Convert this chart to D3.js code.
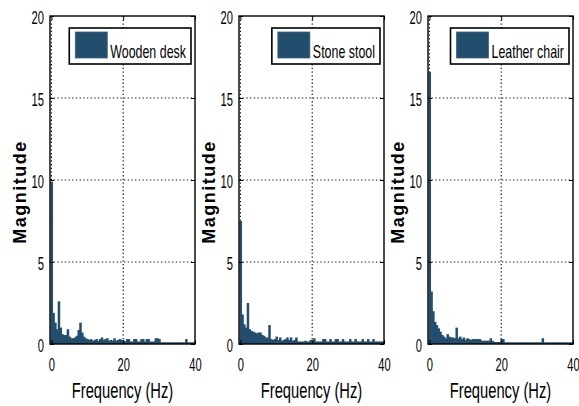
<!DOCTYPE html>
<html>
<head>
<meta charset="utf-8">
<script src="https://cdn.jsdelivr.net/npm/d3@7"></script>
<style>
  body { margin: 0; background: #fff; }
  svg { display: block; }
  text { font-family: "Liberation Sans", Arial, sans-serif; fill: #000; }
</style>
</head>
<body>
<svg id="chart" width="579" height="406"></svg>
<script>
// spectra sampled every 0.5 Hz from 0 to 40 Hz
const objects = ['Wooden desk', 'Stone stool', 'Leather chair'];
const freqStep = 0.5;
const woodenDesk = [
  9.9, 1.9, 1.3, 0.9, 2.6, 1.0, 0.6, 0.55, 0.55, 0.9,
  0.45, 0.35, 0.35, 0.4, 0.5, 0.85, 1.3, 0.7, 0.45, 0.35,
  0.3, 0.25, 0.3, 0.2, 0.25, 0.3, 0.2, 0.3, 0.4, 0.25,
  0.3, 0.35, 0.2, 0.25, 0.2, 0.35, 0.2, 0.25, 0.3, 0.25,
  0.2, 0.15, 0.3, 0.3, 0.15, 0.15, 0.3, 0.3, 0.15, 0.15,
  0.3, 0.3, 0.15, 0.3, 0.3, 0.15, 0.15, 0.15, 0.35, 0.35,
  0.3, 0.1, 0.1, 0.1, 0.1, 0.1, 0.1, 0.1, 0.1, 0.1,
  0.1, 0.1, 0.1, 0.1, 0.1, 0.3, 0.1, 0.1, 0.1, 0.1, 0.1
];
const stoneStool = [
  7.5, 1.8, 1.2, 1.0, 2.5, 0.9, 0.8, 0.75, 0.7, 0.65,
  0.7, 0.7, 0.55, 0.5, 0.4, 0.4, 1.15, 0.3, 0.25, 0.3,
  0.45, 0.25, 0.4, 0.2, 0.25, 0.3, 0.4, 0.25, 0.4, 0.2,
  0.25, 0.4, 0.15, 0.15, 0.15, 0.15, 0.2, 0.15, 0.15, 0.25,
  0.2, 0.35, 0.15, 0.15, 0.15, 0.15, 0.3, 0.3, 0.15, 0.15,
  0.3, 0.15, 0.15, 0.3, 0.3, 0.15, 0.15, 0.3, 0.15, 0.15,
  0.15, 0.3, 0.15, 0.15, 0.3, 0.15, 0.15, 0.15, 0.3, 0.15,
  0.15, 0.3, 0.15, 0.15, 0.3, 0.15, 0.15, 0.15, 0.15, 0.15, 0.15
];
const leatherChair = [
  16.6, 3.2, 2.0, 1.35, 1.15, 0.95, 0.75, 0.55, 0.45, 0.35,
  0.6, 0.45, 0.4, 0.4, 0.35, 1.0, 0.35, 0.45, 0.3, 0.4,
  0.25, 0.35, 0.3, 0.25, 0.3, 0.3, 0.3, 0.3, 0.3, 0.2,
  0.2, 0.2, 0.2, 0.2, 0.35, 0.2, 0.12, 0.12, 0.12, 0.12,
  0.3, 0.3, 0.1, 0.1, 0.1, 0.1, 0.1, 0.1, 0.1, 0.1,
  0.1, 0.1, 0.1, 0.1, 0.1, 0.1, 0.1, 0.1, 0.1, 0.1,
  0.1, 0.1, 0.1, 0.35, 0.1, 0.1, 0.1, 0.1, 0.1, 0.1,
  0.1, 0.1, 0.1, 0.1, 0.1, 0.1, 0.1, 0.1, 0.1, 0.1, 0.1
];
const xTicks = [0, 20, 40];
const yTicks = [0, 5, 10, 15, 20];
const xLabel = 'Frequency (Hz)';
const yLabel = 'Magnitude';

const svg = d3.select('#chart');
const barColor = '#234d6d';
const panels = [woodenDesk, stoneStool, leatherChair];
const lefts = [50, 239, 428], plotTop = 16, w = 145, h = 328;

panels.forEach((vals, i) => {
  const g = svg.append('g').attr('transform', 'translate(' + lefts[i] + ',' + plotTop + ')');

  const x = d3.scaleLinear().domain([-0.4, 40]).range([0, w]);
  const y = d3.scaleLinear().domain([0, 20]).range([h, 0]);

  // dotted grid
  g.append('g').selectAll('line')
    .data(yTicks.filter(t => t > 0 && t < 20))
    .join('line')
    .attr('x1', 0).attr('x2', w)
    .attr('y1', d => y(d)).attr('y2', d => y(d))
    .attr('stroke', '#111').attr('stroke-width', 1.2)
    .attr('stroke-dasharray', '1.3,2.4');
  g.append('g').selectAll('line')
    .data(xTicks.filter(t => t < 40))
    .join('line')
    .attr('x1', d => x(d)).attr('x2', d => x(d))
    .attr('y1', 0).attr('y2', h)
    .attr('stroke', '#111').attr('stroke-width', 1.2)
    .attr('stroke-dasharray', '1.3,2.4');

  // spectrum bars (slight overlap so neighbours merge)
  const x0 = j => Math.max(0, x(j * freqStep - freqStep / 2));
  const x1 = j => Math.min(w, x(j * freqStep + freqStep / 2) + 0.7);
  g.append('g').selectAll('rect')
    .data(vals)
    .join('rect')
    .attr('x', (d, j) => x0(j))
    .attr('width', (d, j) => Math.max(0, x1(j) - x0(j)))
    .attr('y', d => y(d))
    .attr('height', d => h - y(d))
    .attr('fill', barColor);

  // axes with inward ticks
  const yAxis = g.append('g')
    .call(d3.axisLeft(y).tickValues(yTicks).tickSize(-4).tickFormat(d3.format('d')));
  const xAxis = g.append('g')
    .attr('transform', 'translate(0,' + h + ')')
    .call(d3.axisBottom(x).tickValues(xTicks).tickSize(-4).tickFormat(d3.format('d')));
  g.append('g').call(d3.axisTop(x).tickValues(xTicks).tickSize(-4).tickFormat(''));
  g.append('g').attr('transform', 'translate(' + w + ',0)')
    .call(d3.axisRight(y).tickValues(yTicks).tickSize(-4).tickFormat(''));
  g.selectAll('.domain').remove();
  g.selectAll('.tick line').attr('stroke', '#000').attr('stroke-width', 1);

  yAxis.selectAll('text')
    .attr('x', null).attr('dy', null)
    .attr('text-anchor', 'end')
    .style('font-size', '18px')
    .attr('transform', 'translate(-6,7) scale(0.62,1)');
  xAxis.selectAll('text')
    .attr('y', null).attr('dy', null)
    .style('font-size', '18px')
    .attr('transform', 'translate(0,27) scale(0.62,1)');

  // frame
  g.append('rect')
    .attr('width', w).attr('height', h)
    .attr('fill', 'none').attr('stroke', '#000').attr('stroke-width', 1.4);

  // axis titles
  g.append('text')
    .attr('text-anchor', 'middle')
    .style('font-size', '22px')
    .attr('transform', 'translate(' + (w / 2) + ',' + (398 - plotTop) + ') scale(0.67,1)')
    .text(xLabel);
  g.append('text')
    .attr('text-anchor', 'middle')
    .style('font-size', '18px')
    .style('font-weight', 'bold')
    .style('letter-spacing', '1.5px')
    .attr('transform', 'translate(-24,' + (192 - plotTop) + ') rotate(-90)')
    .text(yLabel);

  // legend
  const lg = g.append('g');
  const boxRight = w - 4;
  const lt = lg.append('text')
    .style('font-size', '18px')
    .text(objects[i]);
  const tw = lt.node().getComputedTextLength() * 0.69;
  const textX = boxRight - 5 - tw;
  lt.attr('transform', 'translate(' + textX + ',' + (58 - plotTop) + ') scale(0.69,1)');
  const boxLeft = textX - 3 - 32 - 6;
  lg.insert('rect', 'text')
    .attr('x', boxLeft).attr('y', 28 - plotTop)
    .attr('width', boxRight - boxLeft).attr('height', 36)
    .attr('fill', '#fff').attr('stroke', '#000').attr('stroke-width', 1.6);
  lg.insert('rect', 'text')
    .attr('x', textX - 3 - 32).attr('y', 32 - plotTop)
    .attr('width', 32).attr('height', 26)
    .attr('fill', barColor).attr('stroke', '#3a6585').attr('stroke-width', 0.8);
});
</script>
</body>
</html>
